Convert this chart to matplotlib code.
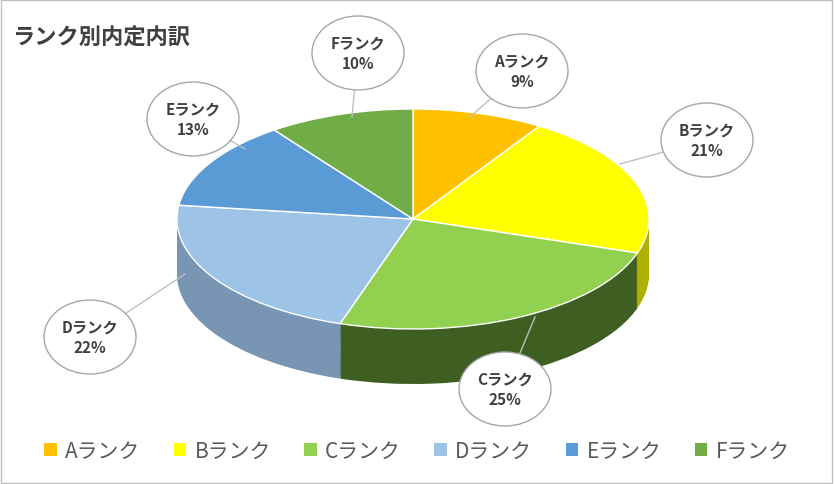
import matplotlib
matplotlib.use("Agg")
import matplotlib.pyplot as plt
from matplotlib.patches import Ellipse, Patch, Rectangle
import numpy as np

plt.rcParams['font.family'] = 'Noto Sans CJK JP'

categories = ["Aランク", "Bランク", "Cランク", "Dランク", "Eランク", "Fランク"]
values = [9, 21, 25, 22, 13, 10]
colors = ["#ffc000", "#ffff00", "#92d050", "#9dc3e6", "#5b9bd5", "#70ad47"]
side_colors = ["#b08400", "#b0b000", "#3e5e22", "#7896b4", "#3f6e9a", "#4a7a2e"]
title = "ランク別内定内訳"

W, H = 834, 485
fig = plt.figure(figsize=(W/100, H/100), dpi=100)
ax = fig.add_axes([0, 0, 1, 1])
RX, RY = 236, 110
k = RX / RY
cx, cy, depth = 413, 220, 55

# side wall layers (y axis inverted -> counterclock=True gives visual clockwise)
for d in np.linspace(depth, 1, 40):
    ax.pie(values, colors=side_colors, startangle=-90, counterclock=True,
           center=(cx, (cy + d) * k), radius=RX,
           wedgeprops=dict(linewidth=0))
ax.pie(values, colors=colors, startangle=-90, counterclock=True,
       center=(cx, cy * k), radius=RX,
       wedgeprops=dict(linewidth=1, edgecolor="white"))
ax.set_aspect('auto')
ax.set_xlim(0, W)
ax.set_ylim(H * k, 0)
ax.axis('off')

# callouts
label_pos = [(522, 72), (707, 141), (505, 390), (90, 338), (193, 120), (358, 54)]
anchors = [(470, 118), (620, 165), (535, 318), (185, 275), (245, 150), (352, 118)]
for cat, v, (lx, ly), (axx, ayy) in zip(categories, values, label_pos, anchors):
    ax.plot([lx, axx], [ly * k, ayy * k], color="#bfbfbf", lw=1, zorder=5)
    e = Ellipse((lx, ly * k), 92, 74 * k, facecolor="white", edgecolor="#a6a6a6", lw=1, zorder=6)
    ax.add_patch(e)
    ax.text(lx, ly * k, f"{cat}\n{v}%", ha="center", va="center", fontsize=11,
            fontweight="bold", color="#404040", zorder=7, linespacing=1.3)

fig.text(12/W, 1 - 38/H, title, fontsize=16, fontweight="bold", color="#404040", va="center")
fig.patches.append(Rectangle((0.001, 0.002), 0.997, 0.996, transform=fig.transFigure,
                             fill=False, edgecolor="#bfbfbf", lw=1))

handles = [Patch(facecolor=c, edgecolor="none") for c in colors]
fig.legend(handles, categories, loc="center", bbox_to_anchor=(0.5, 1 - 452/H), ncol=6,
           frameon=False, fontsize=15, handlelength=0.6, handleheight=0.6,
           columnspacing=1.6, handletextpad=0.4, labelcolor="#595959")

fig.savefig("out.png", dpi=100)
